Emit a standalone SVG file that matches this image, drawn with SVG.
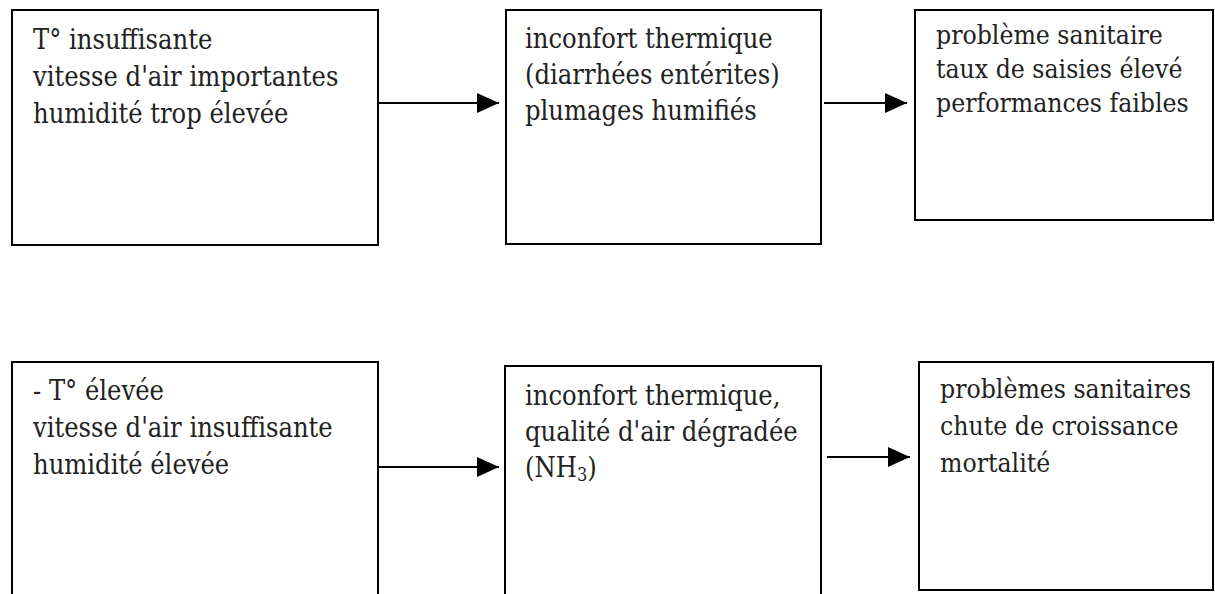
<svg xmlns="http://www.w3.org/2000/svg" width="1215" height="594" viewBox="0 0 1215 594">
<style>
.box{fill:#fff;stroke:#000;stroke-width:2}
.t{font-family:"DejaVu Serif",serif;font-stretch:condensed;font-size:27px;fill:#222}
.r{font-size:26.3px}
.c{stroke:#000;stroke-width:2;fill:none}
</style>
<defs>
<marker id="ah" markerUnits="userSpaceOnUse" markerWidth="22" markerHeight="20" refX="22" refY="10" orient="auto">
<path d="M0,0 L22,10 L0,20 Z" fill="#000"/>
</marker>
</defs>
<rect width="1215" height="594" fill="#fff"/>
<g id="n1">
<rect class="box" x="12" y="10" width="366" height="235"/>
<text class="t" x="33" y="49">T° insuffisante</text>
<text class="t" x="33" y="86">vitesse d'air importantes</text>
<text class="t" x="33" y="123">humidité trop élevée</text>
</g>
<g id="n2">
<rect class="box" x="506" y="10" width="315" height="234"/>
<text class="t" x="525" y="48">inconfort thermique</text>
<text class="t" x="525" y="84">(diarrhées entérites)</text>
<text class="t" x="525" y="120">plumages humifiés</text>
</g>
<g id="n3">
<rect class="box" x="915" y="10" width="298" height="210"/>
<text class="t r" x="936" y="44">problème sanitaire</text>
<text class="t r" x="936" y="78">taux de saisies élevé</text>
<text class="t r" x="936" y="112">performances faibles</text>
</g>
<g id="n4">
<rect class="box" x="12" y="362" width="366" height="240"/>
<text class="t" x="33" y="400">- T° élevée</text>
<text class="t" x="33" y="437">vitesse d'air insuffisante</text>
<text class="t" x="33" y="474">humidité élevée</text>
</g>
<g id="n5">
<rect class="box" x="505" y="366" width="316" height="240"/>
<text class="t" x="525" y="405">inconfort thermique,</text>
<text class="t" x="525" y="441">qualité d'air dégradée</text>
<text class="t" x="525" y="477">(NH<tspan font-size="18" dy="4">3</tspan><tspan dy="-4">)</tspan></text>
</g>
<g id="n6">
<rect class="box" x="919" y="362" width="294" height="228"/>
<text class="t r" x="940" y="398">problèmes sanitaires</text>
<text class="t r" x="940" y="435">chute de croissance</text>
<text class="t r" x="940" y="472">mortalité</text>
</g>
<g id="connectors">
<line class="c" x1="378" y1="103" x2="499" y2="103" marker-end="url(#ah)"/>
<line class="c" x1="824" y1="103" x2="907" y2="103" marker-end="url(#ah)"/>
<line class="c" x1="378" y1="467" x2="499" y2="467" marker-end="url(#ah)"/>
<line class="c" x1="827" y1="457" x2="910" y2="457" marker-end="url(#ah)"/>
</g>
</svg>
